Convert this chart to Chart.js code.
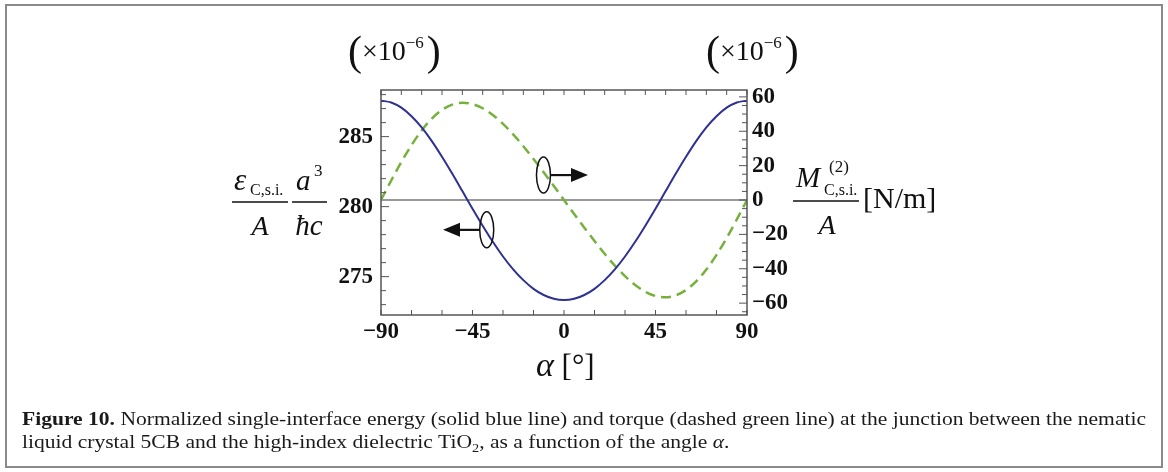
<!DOCTYPE html>
<html>
<head>
<meta charset="utf-8">
<script src="https://cdn.jsdelivr.net/npm/chart.js@4.4.1/dist/chart.umd.min.js"></script>
<style>
  html, body { margin: 0; padding: 0; background: #fff; }
  canvas { display: block; }
</style>
</head>
<body>
<canvas id="myChart" width="1168" height="472"></canvas>
<script>
// angle alpha [deg]
const alpha = [-90, -85, -80, -75, -70, -65, -60, -55, -50, -45, -40, -35, -30, -25, -20, -15, -10, -5, 0,
               5, 10, 15, 20, 25, 30, 35, 40, 45, 50, 55, 60, 65, 70, 75, 80, 85, 90];
// normalized single-interface energy, left axis (x1e-6)
const energy = [287.57, 287.44, 287.07, 286.46, 285.66, 284.68, 283.56, 282.36, 281.11, 279.85,
                278.64, 277.49, 276.44, 275.52, 274.75, 274.13, 273.69, 273.42, 273.33,
                273.42, 273.69, 274.13, 274.75, 275.52, 276.44, 277.49, 278.64, 279.85,
                281.11, 282.36, 283.56, 284.68, 285.66, 286.46, 287.07, 287.44, 287.57];
// torque M/A [N/m], right axis (x1e-6)
const torque = [0, 11.28, 22.09, 31.95, 40.47, 47.35, 52.38, 55.45, 56.56, 55.82,
                53.38, 49.45, 44.30, 38.17, 31.29, 23.87, 16.09, 8.10, 0,
                -8.10, -16.09, -23.87, -31.29, -38.17, -44.30, -49.45, -53.38, -55.82,
                -56.56, -55.45, -52.38, -47.35, -40.47, -31.95, -22.09, -11.28, 0];
// reference line at zero torque
const zeroX = [-90, 90];
const zeroY = [0, 0];

const xTickLabels = [-90, -45, 0, 45, 90];
const leftTickLabels = [275, 280, 285];
const rightTickLabels = [-60, -40, -20, 0, 20, 40, 60];

function pts(xs, ys) {
    return xs.map((x, i) => ({ x: x, y: ys[i] }));
}
function fmt(v) {
    return String(v).replace('-', '\u2212');
}
function onlyLabels(list) {
    return function (v) {
        const r = Math.round(v * 1000) / 1000;
        return list.includes(r) ? fmt(r) : '';
    };
}

const SERIF = '"Liberation Serif", "DejaVu Serif", serif';

function txt(ctx, s, x, y, font, align) {
    ctx.font = font;
    ctx.textAlign = align || 'left';
    ctx.textBaseline = 'alphabetic';
    ctx.fillText(s, x, y);
    return ctx.measureText(s).width;
}
function runs(ctx, list, x, y) {
    // list of [text, font, dy]
    let cx = x;
    list.forEach(r => {
        cx += txt(ctx, r[0], cx, y + (r[2] || 0), r[1]);
    });
    return cx - x;
}
function runsWidth(ctx, list) {
    let w = 0;
    list.forEach(r => { ctx.font = r[1]; w += ctx.measureText(r[0]).width; });
    return w;
}
function arrowTo(ctx, x0, y, x1) {
    // shaft from x0 to arrow tip x1
    const dir = x1 > x0 ? 1 : -1;
    const headLen = 17, headHalf = 7;
    ctx.beginPath();
    ctx.moveTo(x0, y);
    ctx.lineTo(x1 - dir * headLen, y);
    ctx.lineWidth = 2.2;
    ctx.stroke();
    ctx.beginPath();
    ctx.moveTo(x1, y);
    ctx.lineTo(x1 - dir * headLen, y - headHalf);
    ctx.lineTo(x1 - dir * headLen, y + headHalf);
    ctx.closePath();
    ctx.fill();
}

const decor = {
    id: 'decor',
    beforeDraw(chart) {
        const ctx = chart.ctx;
        ctx.save();
        ctx.fillStyle = '#fff';
        ctx.fillRect(0, 0, chart.width, chart.height);
        ctx.restore();
    },
    afterDraw(chart) {
        const ctx = chart.ctx;
        const a = chart.chartArea;
        const sx = chart.scales.x, sy = chart.scales.y, sy1 = chart.scales.y1;
        ctx.save();

        // plot frame + inward ticks
        ctx.strokeStyle = '#555';
        ctx.lineWidth = 1.5;
        ctx.strokeRect(a.left, a.top, a.right - a.left, a.bottom - a.top);
        ctx.lineWidth = 1;
        ctx.beginPath();
        for (let v = -90; v <= 90; v += 15) {
            const x = sx.getPixelForValue(v);
            ctx.moveTo(x, a.bottom); ctx.lineTo(x, a.bottom - 5);
        }
        for (let v = -90; v <= 90; v += 10) {
            const x = sx.getPixelForValue(v);
            ctx.moveTo(x, a.top); ctx.lineTo(x, a.top + 5);
        }
        for (let v = Math.ceil(sy.min); v <= sy.max; v++) {
            const y = sy.getPixelForValue(v);
            const len = v % 5 === 0 ? 8 : 5;
            ctx.moveTo(a.left, y); ctx.lineTo(a.left + len, y);
        }
        for (let v = Math.ceil(sy1.min / 5) * 5; v <= sy1.max; v += 5) {
            const y = sy1.getPixelForValue(v);
            const len = v % 20 === 0 ? 8 : 5;
            ctx.moveTo(a.right, y); ctx.lineTo(a.right - len, y);
        }
        ctx.stroke();

        ctx.fillStyle = '#111';
        ctx.strokeStyle = '#111';

        // (x10^-6) factors above both axes
        [348, 706].forEach(x0 => {
            runs(ctx, [
                ['(', '42px ' + SERIF, 5],
                ['\u00d710', '28px ' + SERIF, 0],
                ['\u22126', '17px ' + SERIF, -12],
                [' ', '12px ' + SERIF, 0],
                [')', '42px ' + SERIF, 5]
            ], x0, 60);
        });

        // left axis title: eps_{C,s.i.}/A  a^3/(hbar c)
        txt(ctx, '\u03b5', 234, 190, 'italic 31px ' + SERIF);
        txt(ctx, 'C,s.i.', 250, 195, '16px ' + SERIF);
        txt(ctx, 'A', 260, 235, 'italic 28px ' + SERIF, 'center');
        txt(ctx, 'a', 296, 190, 'italic 29px ' + SERIF);
        txt(ctx, '3', 314, 176, '17px ' + SERIF);
        txt(ctx, '\u0127c', 309, 235, 'italic 29px ' + SERIF, 'center');
        ctx.lineWidth = 1.3;
        ctx.beginPath();
        ctx.moveTo(232, 202); ctx.lineTo(288, 202);
        ctx.moveTo(292, 202); ctx.lineTo(327, 202);
        ctx.stroke();

        // right axis title: M^(2)_{C,s.i.}/A [N/m]
        txt(ctx, 'M', 796, 187, 'italic 29px ' + SERIF);
        txt(ctx, '(2)', 829, 172, '17px ' + SERIF);
        txt(ctx, 'C,s.i.', 824, 195, '16px ' + SERIF);
        txt(ctx, 'A', 827, 234, 'italic 28px ' + SERIF, 'center');
        ctx.beginPath();
        ctx.moveTo(793, 201); ctx.lineTo(859, 201);
        ctx.stroke();
        txt(ctx, '[N/m]', 863, 208, '30px ' + SERIF);

        // x axis title
        runs(ctx, [
            ['\u03b1', 'italic 34px ' + SERIF, 0],
            [' [\u00b0]', '31px ' + SERIF, 0]
        ], 536, 376);

        // ellipse + arrow markers
        ctx.lineWidth = 1.5;
        const lx = sx.getPixelForValue(-38), ly = sy.getPixelForValue(278.34);
        ctx.beginPath();
        ctx.ellipse(lx, ly, 7, 18, 0, 0, Math.PI * 2);
        ctx.stroke();
        arrowTo(ctx, lx - 7, ly, sx.getPixelForValue(-59.5));
        ctx.lineWidth = 1.5;
        const rx = sx.getPixelForValue(-10.1), ry = sy1.getPixelForValue(14.5);
        ctx.beginPath();
        ctx.ellipse(rx, ry, 7, 18, 0, 0, Math.PI * 2);
        ctx.stroke();
        arrowTo(ctx, rx + 7, ry, sx.getPixelForValue(11.8));

        // caption
        const capF = '18px ' + SERIF;
        const line1 = [
            ['Figure 10.', 'bold 18px ' + SERIF],
            [' Normalized single-interface energy (solid blue line) and torque (dashed green line) at the junction between the nematic', capF]
        ];
        const line2 = [
            ['liquid crystal 5CB and the high-index dielectric TiO', capF, 0],
            ['2', '12px ' + SERIF, 4],
            [', as a function of the angle ', capF, 0],
            ['\u03b1', 'italic 18px ' + SERIF, 0],
            ['.', capF, 0]
        ];
        const k = 1124 / runsWidth(ctx, line1);
        ctx.fillStyle = '#1a1a1a';
        ctx.save();
        ctx.translate(22, 425);
        ctx.scale(k, 1);
        runs(ctx, line1, 0, 0);
        ctx.restore();
        ctx.save();
        ctx.translate(22, 448);
        ctx.scale(k, 1);
        runs(ctx, line2, 0, 0);
        ctx.restore();

        // outer figure border
        ctx.strokeStyle = '#8a8a8a';
        ctx.lineWidth = 2;
        ctx.strokeRect(6, 5, 1156, 462);
        ctx.restore();
    }
};

const tickFont = { family: SERIF, size: 23, weight: 'bold' };

new Chart(document.getElementById('myChart'), {
    type: 'line',
    data: {
        datasets: [{
            label: 'energy',
            data: pts(alpha, energy),
            yAxisID: 'y',
            borderColor: '#2e3192',
            borderWidth: 2,
            pointRadius: 0,
            tension: 0.4,
            cubicInterpolationMode: 'monotone'
        }, {
            label: 'torque',
            data: pts(alpha, torque),
            yAxisID: 'y1',
            borderColor: '#76b13c',
            borderWidth: 2.5,
            borderDash: [10, 6],
            pointRadius: 0,
            tension: 0.4,
            cubicInterpolationMode: 'monotone'
        }, {
            label: 'zero',
            data: pts(zeroX, zeroY),
            yAxisID: 'y1',
            borderColor: '#777',
            borderWidth: 1.5,
            pointRadius: 0
        }]
    },
    options: {
        responsive: false,
        animation: false,
        events: [],
        layout: { padding: { top: 90, left: 0, right: 0, bottom: 0 } },
        plugins: {
            legend: { display: false },
            tooltip: { enabled: false }
        },
        scales: {
            x: {
                type: 'linear',
                min: -90,
                max: 90,
                grid: { display: false, drawTicks: false },
                border: { display: false },
                ticks: {
                    stepSize: 45,
                    autoSkip: false,
                    maxRotation: 0,
                    padding: 3,
                    color: '#111',
                    font: tickFont,
                    callback: onlyLabels(xTickLabels)
                },
                afterFit: function (scale) { scale.height = 157; }
            },
            y: {
                position: 'left',
                min: 272.26,
                max: 288.33,
                grid: { display: false, drawTicks: false },
                border: { display: false },
                ticks: {
                    stepSize: 5,
                    includeBounds: false,
                    autoSkip: false,
                    padding: 8,
                    color: '#111',
                    font: tickFont,
                    callback: onlyLabels(leftTickLabels)
                },
                afterFit: function (scale) { scale.width = 381; }
            },
            y1: {
                position: 'right',
                min: -66.9,
                max: 64.0,
                grid: { display: false, drawTicks: false },
                border: { display: false },
                ticks: {
                    stepSize: 20,
                    includeBounds: false,
                    autoSkip: false,
                    padding: 5,
                    color: '#111',
                    font: tickFont,
                    callback: onlyLabels(rightTickLabels)
                },
                afterFit: function (scale) { scale.width = 421; }
            }
        }
    },
    plugins: [decor]
});
</script>
</body>
</html>
